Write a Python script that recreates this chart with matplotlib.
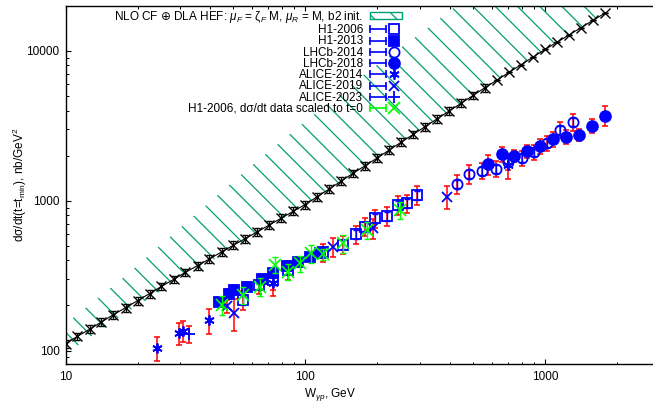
import numpy as np
import matplotlib
matplotlib.use("Agg")
import matplotlib.pyplot as plt
from matplotlib.lines import Line2D
from matplotlib.patches import Patch
from matplotlib.legend_handler import HandlerLine2D, HandlerTuple
from matplotlib.ticker import NullFormatter

# drawn at 200 dpi on a half-size canvas so the hatch spacing comes out like gnuplot's;
# every size in points is scaled by K
K = 0.5

plt.rcParams['font.family'] = ['Liberation Sans', 'DejaVu Sans']
plt.rcParams['mathtext.fontset'] = 'custom'
plt.rcParams['mathtext.rm'] = 'Liberation Sans'
plt.rcParams['mathtext.it'] = 'Liberation Sans:italic'
plt.rcParams['mathtext.tt'] = 'DejaVu Sans'
plt.rcParams['hatch.linewidth'] = 0.9 * K

BAND_C = '#009e73'
FS = 8.5 * K

# theory: NLO CF + DLA HEF central curve (crosses)
th_W = [10, 11.2, 12.6, 14.1, 15.8, 17.8, 20.0, 22.4, 25.1, 28.2, 31.6, 35.5,
        39.8, 44.7, 50.1, 56.2, 63.1, 70.8, 79.4, 89.1, 100, 112, 126, 141,
        158, 178, 200, 224, 251, 282, 316, 355, 398, 447, 501, 562, 631, 708,
        794, 891, 1000, 1122, 1259, 1413, 1585, 1778]
th_sig = [111.4, 124.5, 139.0, 155.2, 173.4, 193.6, 215.8, 240.4, 267.9, 298.5,
          332.7, 369.0, 409.3, 455.0, 504.7, 559.8, 620.9, 690.2, 765.6, 851.1,
          944.1, 1064, 1199, 1352, 1524, 1718, 1936, 2183, 2460, 2773, 3126,
          3524, 3972, 4477, 5047, 5689, 6397, 7194, 8091, 9099, 10233, 11429,
          12794, 14289, 15996, 17865]
th_err = [6.7, 7.5, 8.3, 9.3, 10.4, 11.6, 12.9, 14.4, 16.1, 17.9, 20, 22.1,
          24.6, 27.3, 30.3, 33.6, 37.3, 41.4, 45.9, 51.1, 56.6, 63.8, 71.9,
          81.1, 91.4, 103, 116, 131, 148, 166, 188, 211, 238, 269, 303, 341,
          0, 0, 0, 0, 0, 0, 0, 0, 0, 0]

# theory uncertainty band
band_W = [10, 17.8, 31.6, 56.2, 100, 178, 316, 562, 1000, 1778]
band_lo = [95.5, 178, 316, 537, 933, 1718, 3126, 5689, 10233, 17865]
band_hi = [151, 316, 708, 1585, 3388, 7079, 13800, 28200, 56000, 112000]

# H1-2006 (open squares)
h106_W = [55.1, 64.2, 73.5, 84.9, 118.8, 144, 162.7, 177.4, 195.3, 219.8, 244.3, 266.3, 291.5]
h106_sig = [218, 275, 296, 346, 454, 508, 598, 672, 765, 792, 938, 963, 1094]
h106_tot = [30, 38, 42, 48, 62, 70, 82, 92, 105, 110, 130, 135, 160]
h106_stat = [15, 19, 21, 24, 31, 35, 41, 46, 52, 55, 65, 67, 76]

# H1-2013 (filled squares)
h113_W = [43.6, 48.2, 50.4, 57.3, 65.8, 73.5, 83.6, 93.5, 104.6, 115.1]
h113_sig = [212, 239, 254, 267, 300, 328, 368, 393, 424, 447]
h113_err = [15, 17, 18, 19, 21, 23, 26, 28, 30, 32]

# LHCb-2014 (open circles)
l14_W = [428, 483, 544, 622, 703, 799, 901, 1019, 1155, 1313]
l14_sig = [1296, 1511, 1589, 1632, 1825, 1932, 2102, 2421, 2971, 3375]
l14_tot = [180, 210, 200, 200, 230, 230, 245, 280, 360, 440]
l14_stat = [80, 90, 95, 100, 110, 115, 125, 145, 180, 200]

# LHCb-2018 (filled circles)
l18_W = [580, 659, 744, 841, 953, 1083, 1228, 1390, 1578, 1780]
l18_sig = [1748, 2048, 1992, 2142, 2312, 2575, 2680, 2750, 3174, 3701]
l18_err = [270, 230, 180, 220, 270, 300, 280, 260, 340, 560]

# ALICE
a14_W = [24.1, 29.8, 30.8, 39.6, 73.1, 703]
a14_sig = [104, 131, 136, 160, 282, 1720]
a14_err = [19, 22, 22, 30, 52, 330]

a19_W = [47.2, 50.5, 130, 192, 389]
a19_sig = [197, 178, 490, 656, 1066]
a19_err = [20, 42, 70, 98, 190]

a23_W = [32.8]
a23_sig = [129]
a23_err = [17]

# H1-2006 dsigma/dt scaled to t=0 (green)
h1s_W = [44.8, 54.8, 64.7, 74.7, 84.9, 95.0, 105.3, 118.8, 144, 180.3, 248.3]
h1s_sig = [202, 235, 267, 373, 337, 383, 447, 440, 521, 639, 869]
h1s_err = [29, 30, 36, 46, 43, 48, 62, 40, 72, 80, 110]

ASTER = (6, 2, 0)

fig = plt.figure(figsize=(6.53 * K, 4.04 * K), dpi=100 / K)
ax = fig.add_axes([0.1006, 0.0983, 0.8994, 0.8876])
ax.set_xscale('log')
ax.set_yscale('log')

ax.fill_between(band_W, band_lo, band_hi, facecolor='none', edgecolor=BAND_C,
                hatch='\\\\\\', linewidth=0, zorder=1)

ax.errorbar(th_W, th_sig, yerr=th_err, color='black', lw=0.8 * K, marker='x', ms=6.5 * K,
            mew=1.0 * K, elinewidth=0.8 * K, capsize=2 * K, capthick=0.8 * K, zorder=2)


def plot_set(W, sig, tot, marker, filled, stat=None, ms=7.3):
    ax.errorbar(W, sig, yerr=tot, fmt='none', ecolor='red', elinewidth=1.1 * K,
                capsize=2 * K, capthick=1.1 * K, zorder=3)
    if stat is not None:
        ax.errorbar(W, sig, yerr=stat, fmt='none', ecolor='blue', elinewidth=1.0 * K,
                    capsize=2 * K, capthick=1.0 * K, zorder=4)
    ax.plot(W, sig, ls='none', marker=marker, ms=ms * K, mfc='blue' if filled else 'none',
            mec='blue', mew=1.3 * K, zorder=5)


plot_set(h106_W, h106_sig, h106_tot, 's', False, h106_stat)
plot_set(h113_W, h113_sig, h113_err, 's', True, ms=7.8)
plot_set(l14_W, l14_sig, l14_tot, 'o', False, l14_stat)
plot_set(l18_W, l18_sig, l18_err, 'o', True, ms=7.8)
plot_set(a14_W, a14_sig, a14_err, ASTER, False)
plot_set(a19_W, a19_sig, a19_err, 'x', False)
plot_set(a23_W, a23_sig, a23_err, '+', False, ms=8)

ax.errorbar(h1s_W, h1s_sig, yerr=h1s_err, fmt='none', ecolor='#00ff00', elinewidth=1.0 * K,
            capsize=2 * K, capthick=1.0 * K, zorder=6)
ax.plot(h1s_W, h1s_sig, ls='none', marker='x', ms=8 * K, mec='#00ff00', mew=1.2 * K, zorder=6)

ax.set_xlim(10, 2823)
ax.set_ylim(81, 20050)
ax.set_xticks([10, 100, 1000])
ax.set_xticklabels(['10', '100', '1000'])
ax.set_yticks([100, 1000, 10000])
ax.set_yticklabels(['100', '1000', '10000'])
ax.xaxis.set_minor_formatter(NullFormatter())
ax.yaxis.set_minor_formatter(NullFormatter())
ax.tick_params(which='both', direction='in', top=True, right=False, labelsize=FS)
ax.tick_params(which='major', length=3.5 * K, width=0.8 * K, pad=4.5 * K)
ax.tick_params(which='minor', length=1.8 * K, width=0.7 * K)
ax.spines['right'].set_visible(False)
for s in ['left', 'bottom', 'top']:
    ax.spines[s].set_linewidth(1.0 * K)

ax.set_xlabel(r'W$_{\gamma p}$, GeV', fontsize=FS)
ax.set_ylabel(r'dσ/dt(t=t$_{\rm min}$), nb/GeV$^2$', fontsize=FS)
ax.xaxis.set_label_coords(0.45, -0.06)
ax.yaxis.set_label_coords(-0.062, 0.5)

# legend in gnuplot style: text, then key with capped line and marker
handles, labels, hmap = [], [], {}
band_key = Patch(facecolor='none', edgecolor=BAND_C, hatch='\\\\\\', lw=1.0 * K)
handles.append(band_key)
labels.append('NLO CF $\\mathtt{⊕}$ DLA HEF: $\\mu_F$ = ζ$_F$ M, $\\mu_R$ = M, b2 init.')


def add_key(label, marker, filled, color, ms=7.3):
    caps = Line2D([0, 1], [0, 0], color=color, lw=1.2 * K, marker='|', ms=6 * K, mew=1.2 * K)
    mk = Line2D([0], [0], ls='none', marker=marker, ms=ms * K,
                mfc=color if filled else 'none', mec=color, mew=1.3 * K)
    hmap[caps] = HandlerLine2D(numpoints=2, marker_pad=0)
    hmap[mk] = HandlerLine2D(numpoints=1)
    handles.append((caps, mk))
    labels.append(label)


add_key('H1-2006', 's', False, 'blue')
add_key('H1-2013', 's', True, 'blue', ms=7.8)
add_key('LHCb-2014', 'o', False, 'blue')
add_key('LHCb-2018', 'o', True, 'blue', ms=7.8)
add_key('ALICE-2014', ASTER, False, 'blue')
add_key('ALICE-2019', 'x', False, 'blue')
add_key('ALICE-2023', '+', False, 'blue', ms=8)
add_key('H1-2006, dσ/dt data scaled to t=0', 'x', False, '#00ff00', ms=8)
hmap[tuple] = HandlerTuple(ndivide=None)

ax.legend(handles, labels, handler_map=hmap, loc='upper right',
          bbox_to_anchor=(402 / 653, 1 - 9 / 404), bbox_transform=fig.transFigure,
          frameon=False, markerfirst=False, fontsize=FS, handlelength=2.7,
          handleheight=0.55, handletextpad=0.6, labelspacing=-0.065, borderpad=0,
          borderaxespad=0)

fig.savefig('out.png', dpi=100 / K)
